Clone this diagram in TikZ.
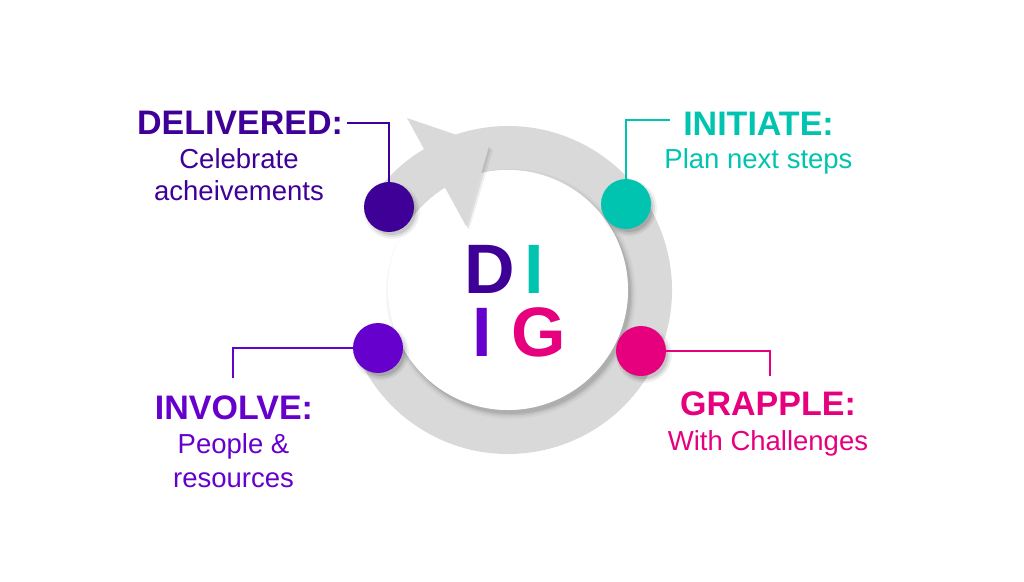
\documentclass[tikz,border=0pt]{standalone}
\usepackage{fontspec}
\setmainfont{Liberation Sans}
\usetikzlibrary{calc}
\definecolor{cDel}{HTML}{3F0097}
\definecolor{cIni}{HTML}{00C4B0}
\definecolor{cGra}{HTML}{E6007E}
\definecolor{cInv}{HTML}{6600CC}
\definecolor{ringgray}{HTML}{D9D9D9}
\begin{document}
\begin{tikzpicture}[x=1pt,y=-1pt,
  dotnode/.style={circle,minimum size=50pt,inner sep=0pt,fill=#1},
  leader/.style={line width=2pt,draw=#1},
  titlenode/.style={font=\fontsize{34}{40}\selectfont\bfseries,anchor=base,inner sep=0pt,text=#1},
  subnode/.style={font=\fontsize{27.5}{33}\selectfont,anchor=base,inner sep=0pt,text=#1},
  bignode/.style={font=\fontsize{70}{80}\selectfont\bfseries,anchor=base,inner sep=0pt,text=#1},
  shade/.style={fill=black,opacity=#1},
]
\useasboundingbox (0,0) rectangle (1024,581);
\coordinate (c) at (508,290);

% grey ring (open arc)
\fill[ringgray] ($(c)+(-145:164)$) arc[start angle=-145,end angle=159,radius=164]
  -- ($(c)+(159:120)$) arc[start angle=159,end angle=-145,radius=120] -- cycle;

% shadow of the inner white disc
\foreach \r/\o in {125/0.03,123/0.04,121.5/0.06,120/0.08}
  \fill[shade=\o] ($(c)+(3,4)$) circle[radius=\r];
\fill[white] (c) circle[radius=120];

% arrow head
\coordinate (a1) at (407,118);
\coordinate (a2) at (489,146);
\coordinate (a3) at (466,226);
\fill[shade=0.06] ($(a1)+(3,4)$) -- ($(a2)+(4,4)$) -- ($(a3)+(3,4)$) -- cycle;
\fill[shade=0.08] ($(a1)+(2,2)$) -- ($(a2)+(2,2)$) -- ($(a3)+(2,2)$) -- cycle;
\fill[ringgray] (a1) -- (a2) -- (a3) -- cycle;

% dot positions
\coordinate (pD) at (389,207);
\coordinate (pI) at (626,204);
\coordinate (pG) at (641,351);
\coordinate (pV) at (378,348);

% leader end points
\coordinate (eD) at (347,123);
\coordinate (eI) at (670,120);
\coordinate (eG) at (770,376);
\coordinate (eV) at (233,378);

% dot shadows
\foreach \p in {pD,pI,pG,pV}{
  \fill[shade=0.05] ($(\p)+(3,4)$) circle[radius=28];
  \fill[shade=0.08] ($(\p)+(3,4)$) circle[radius=26];
  \fill[shade=0.10] ($(\p)+(3,4)$) circle[radius=24];
}

% dots
\node[dotnode=cDel] (dD) at (pD) {};
\node[dotnode=cIni] (dI) at (pI) {};
\node[dotnode=cGra] (dG) at (pG) {};
\node[dotnode=cInv] (dV) at (pV) {};

% leaders
\draw[leader=cDel] (dD) |- (eD);
\draw[leader=cIni] (dI) |- (eI);
\draw[leader=cGra] (dG) -| (eG);
\draw[leader=cInv] (dV) -| (eV);

% labels
\node[titlenode=cDel] (tD) at (240,134) {DELIVERED:};
\node[subnode=cDel] (sD1) at (239,168) {Celebrate};
\node[subnode=cDel] (sD2) at (239,200) {acheivements};

\node[titlenode=cIni] (tI) at (758.5,135) {INITIATE:};
\node[subnode=cIni] (sI1) at (758.5,168) {Plan next steps};

\node[titlenode=cGra] (tG) at (768,415) {GRAPPLE:};
\node[subnode=cGra] (sG1) at (768,450) {With Challenges};

\node[titlenode=cInv] (tV) at (234,419) {INVOLVE:};
\node[subnode=cInv] (sV1) at (233.5,453) {People \&};
\node[subnode=cInv] (sV2) at (233.5,487) {resources};

% DIG letters
\node[bignode=cDel] (lD) at (490,293) {D};
\node[bignode=cIni] (lI1) at (534,293) {I};
\node[bignode=cInv] (lI2) at (482,356) {I};
\node[bignode=cGra] (lG) at (539,356) {G};
\end{tikzpicture}
\end{document}
